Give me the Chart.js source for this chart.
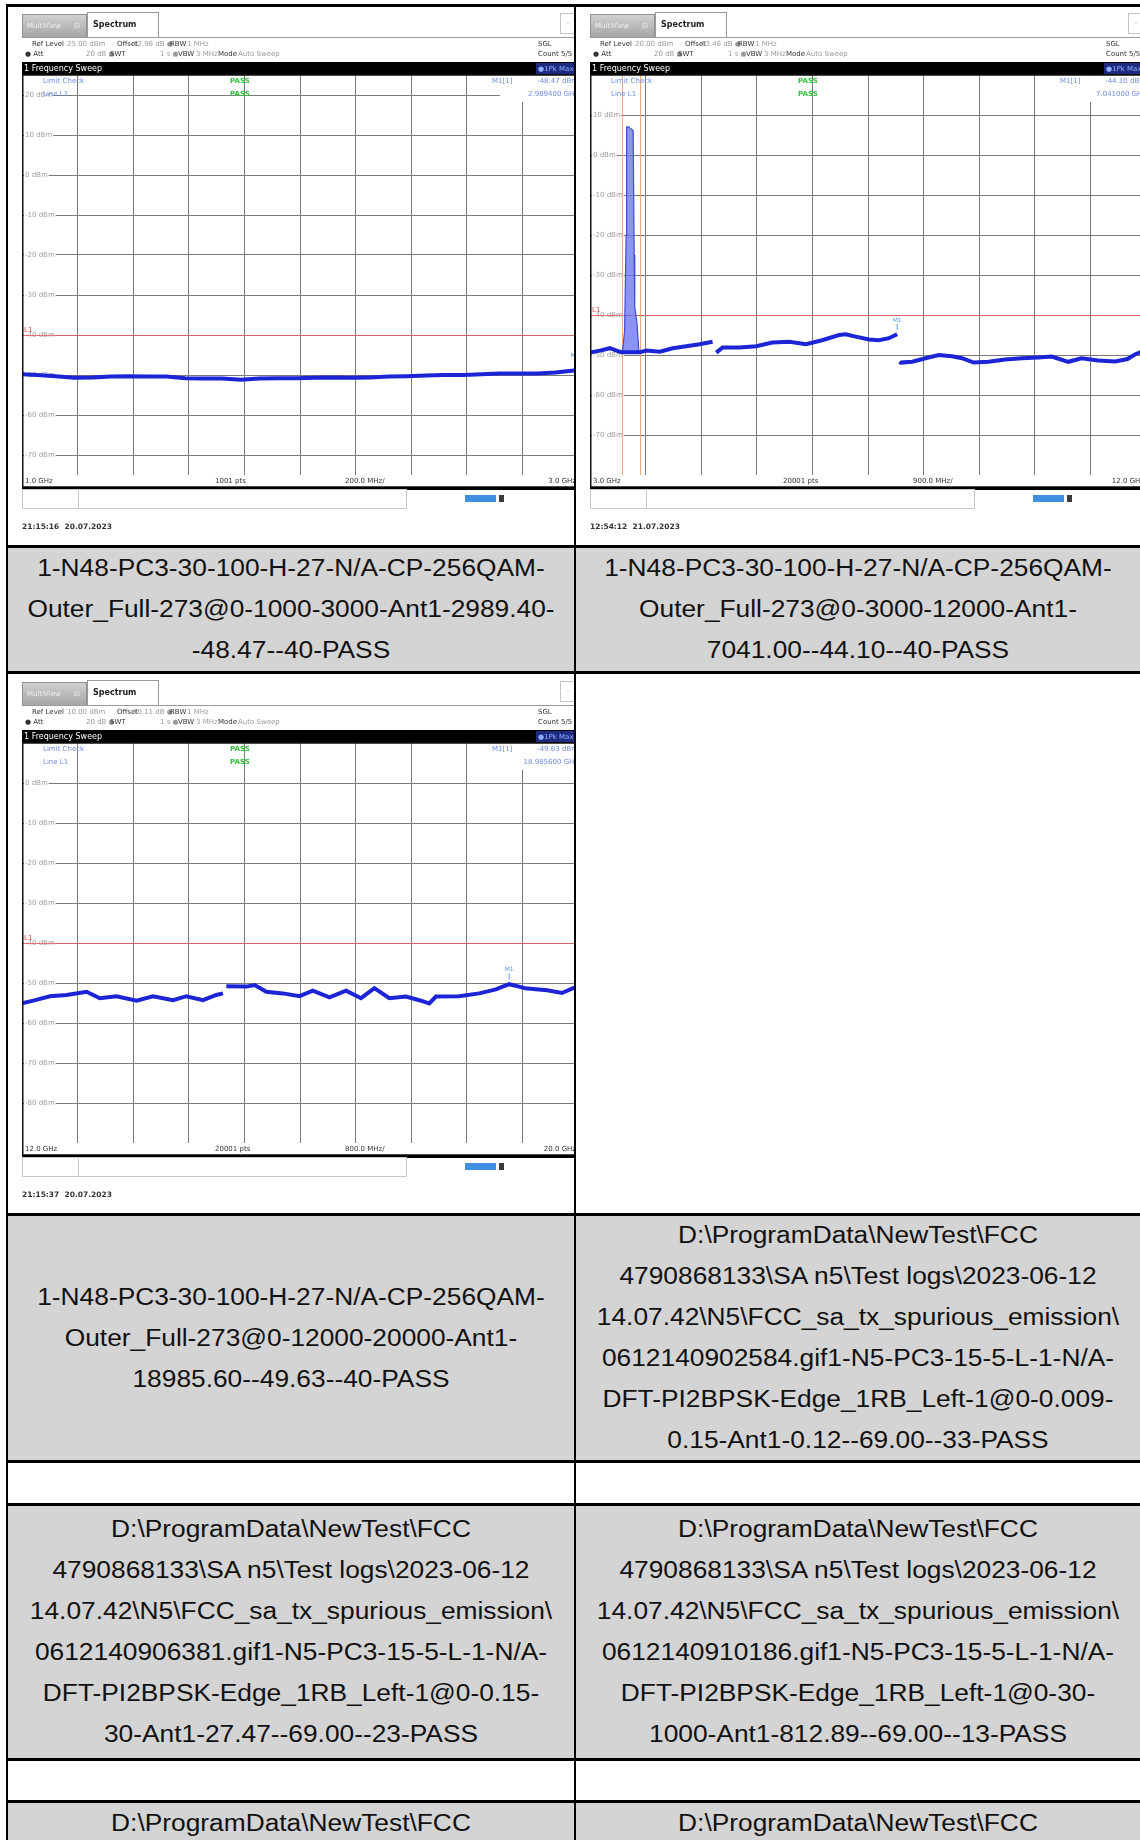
<!DOCTYPE html>
<html lang="pt-BR">
<head>
<meta charset="utf-8">
<title>Emissões espúrias - capturas</title>
<script src="https://cdn.jsdelivr.net/npm/chart.js@4.4.1/dist/chart.umd.min.js"></script>
<style>
  body { margin: 0; background: #fff; }
  #pagina { position: relative; width: 1140px; height: 1840px; overflow: hidden;
            font-family: "Liberation Sans", Arial, sans-serif; color: #111; }
  .cel { position: absolute; display: flex; align-items: center; overflow: hidden; }
  .cel.topo { align-items: flex-start; }
  .cinza { background: #d4d4d4; }
  .txt { flex: none; transform-origin: 0 50%; transform: scaleX(1.12); text-align: center;
         font-size: 23.5px; line-height: 41px; white-space: nowrap; }
  .hl { position: absolute; left: 6px; width: 1140px; height: 3px; background: #000; }
  .vl { position: absolute; width: 2px; background: #000; }
  .captura { position: absolute; overflow: hidden; }
  .captura canvas { display: block; }
</style>
</head>
<body>
<div id="pagina"></div>
<script>

// Captura 1: 1 GHz a 3 GHz
const s1Freq = [1000, 1054, 1121, 1187, 1254, 1320, 1387, 1453, 1520, 1587, 1654, 1720, 1787, 1853, 1920, 1986,
                2053, 2119, 2187, 2252, 2320, 2385, 2453, 2518, 2586, 2653, 2719, 2786, 2853, 2919, 2986, 3000];
const s1Nivel = [-49.8, -50.0, -50.3, -50.7, -50.6, -50.4, -50.3, -50.4, -50.4, -50.8, -50.9, -50.9, -51.2, -50.9, -50.8, -50.8,
                 -50.7, -50.6, -50.7, -50.6, -50.4, -50.3, -50.1, -50.0, -50.0, -49.8, -49.6, -49.6, -49.6, -49.4, -48.9, -48.5];
const s1FaixaX = [1000, 3000];
const s1FaixaY = [-75, 25];
const s1TicksY = [20, 10, 0, -10, -20, -30, -40, -50, -60, -70];
const s1RotulosX = ['1.0 GHz', '1001 pts', '200.0 MHz/', '3.0 GHz'];
const s1Cab = ['25.00 dBm', '12.96 dB', '20 dB', '1 s'];
const s1Marcador = [2989.4, -48.47];
const s1Leitura = ['-48.47 dBm', '2.989400 GHz'];
const s1Hora = '21:15:16  20.07.2023';

// Captura 2: 3 GHz a 12 GHz (null = trecho interrompido)
const s2Freq = [3000, 3161, 3323, 3484, 3527, 3800, 3914, 4129, 4339, 4560, 4774, 4984, 5010,
                5043, 5146, 5419, 5688, 5952, 6226, 6495, 6758, 7032, 7140, 7301, 7516, 7677, 7839, 7972, 7990,
                8011, 8027, 8215, 8430, 8645, 8860, 9022, 9210, 9452, 9720, 9989, 10258, 10473, 10742, 10957,
                11226, 11500, 11700, 11826, 12000];
const s2Nivel = [-49.4, -48.9, -48.3, -49.2, -49.3, -49.3, -48.9, -49.2, -48.3, -47.8, -47.3, -46.7, null,
                 -49.4, -48.1, -48.1, -47.8, -46.9, -46.7, -47.3, -46.3, -45.0, -44.8, -45.4, -46.1, -46.3, -45.8, -44.8, null,
                 -51.7, -51.9, -51.7, -50.8, -50.0, -50.3, -50.8, -51.9, -51.7, -51.1, -50.8, -50.6, -50.4, -51.7, -50.8,
                 -51.4, -51.6, -51.0, -49.8, -48.8];
const s2PicoFreq = [3527, 3560, 3585, 3592, 3620, 3660, 3699, 3715, 3725, 3760, 3790];
const s2PicoNivel = [-49.0, -44.0, -20.0, 7.0, 7.1, 6.6, 6.1, -25.0, -38.0, -42.0, -49.0];
const s2LinhasFreq = [3510, 3805];
const s2FaixaX = [3000, 12000];
const s2FaixaY = [-80, 20];
const s2TicksY = [10, 0, -10, -20, -30, -40, -50, -60, -70];
const s2RotulosX = ['3.0 GHz', '20001 pts', '900.0 MHz/', '12.0 GHz'];
const s2Cab = ['20.00 dBm', '23.46 dB', '20 dB', '1 s'];
const s2Marcador = [7972, -44.5];
const s2Leitura = ['-44.10 dBm', '7.041000 GHz'];
const s2Hora = '12:54:12  21.07.2023';

// Captura 3: 12 GHz a 20 GHz
const s3Freq = [12000, 12163, 12402, 12642, 12929, 13120, 13360, 13647, 13886, 14174, 14365, 14604, 14796, 14892, 14915,
                14940, 15227, 15347, 15515, 15754, 15993, 16184, 16424, 16663, 16878, 17070, 17285, 17525, 17716,
                17860, 17956, 18291, 18578, 18818, 19009, 19152, 19239, 19555, 19770, 19928, 20000];
const s3Nivel = [-55.1, -54.4, -53.3, -53.0, -52.2, -53.8, -53.3, -54.4, -53.3, -54.3, -53.3, -54.3, -53.0, -52.6, null,
                 -50.8, -50.9, -50.5, -52.2, -52.6, -53.3, -51.9, -53.6, -51.9, -53.8, -51.3, -53.8, -53.4, -54.3,
                 -55.1, -53.4, -53.3, -52.6, -51.6, -50.3, -50.9, -51.3, -51.8, -52.5, -51.3, -51.0];
const s3FaixaX = [12000, 20000];
const s3FaixaY = [-90, 10];
const s3TicksY = [0, -10, -20, -30, -40, -50, -60, -70, -80];
const s3RotulosX = ['12.0 GHz', '20001 pts', '800.0 MHz/', '20.0 GHz'];
const s3Cab = ['10.00 dBm', '10.11 dB', '20 dB', '1 s'];
const s3Marcador = [19009, -49.9];
const s3Leitura = ['-49.63 dBm', '18.985600 GHz'];
const s3Hora = '21:15:37  20.07.2023';

const limiteDbm = -40;

// ===== Textos das células =====
const legendaS1 = ['1-N48-PC3-30-100-H-27-N/A-CP-256QAM-', 'Outer_Full-273@0-1000-3000-Ant1-2989.40-', '-48.47--40-PASS'];
const legendaS2 = ['1-N48-PC3-30-100-H-27-N/A-CP-256QAM-', 'Outer_Full-273@0-3000-12000-Ant1-', '7041.00--44.10--40-PASS'];
const legendaS3 = ['1-N48-PC3-30-100-H-27-N/A-CP-256QAM-', 'Outer_Full-273@0-12000-20000-Ant1-', '18985.60--49.63--40-PASS'];
const caminhoBase = ['D:\\ProgramData\\NewTest\\FCC', '4790868133\\SA n5\\Test logs\\2023-06-12',
                     '14.07.42\\N5\\FCC_sa_tx_spurious_emission\\'];
const legendaN5a = [...caminhoBase, '0612140902584.gif1-N5-PC3-15-5-L-1-N/A-', 'DFT-PI2BPSK-Edge_1RB_Left-1@0-0.009-',
                    '0.15-Ant1-0.12--69.00--33-PASS'];
const legendaN5b = [...caminhoBase, '0612140906381.gif1-N5-PC3-15-5-L-1-N/A-', 'DFT-PI2BPSK-Edge_1RB_Left-1@0-0.15-',
                    '30-Ant1-27.47--69.00--23-PASS'];
const legendaN5c = [...caminhoBase, '0612140910186.gif1-N5-PC3-15-5-L-1-N/A-', 'DFT-PI2BPSK-Edge_1RB_Left-1@0-30-',
                    '1000-Ant1-812.89--69.00--13-PASS'];

// configuração de cada tela, indexada pelo id do canvas
const telas = {};

document.addEventListener('DOMContentLoaded', function () {
  montarTabela();
  criarCaptura({ id: 'cap1', x: 8, y: 7, w: 566, faixaX: s1FaixaX, passoX: 200, faixaY: s1FaixaY, ticksY: s1TicksY,
    freq: s1Freq, nivel: s1Nivel, rotulosX: s1RotulosX, cab: s1Cab, marcador: s1Marcador, leitura: s1Leitura, hora: s1Hora });
  criarCaptura({ id: 'cap2', x: 576, y: 7, w: 564, faixaX: s2FaixaX, passoX: 900, faixaY: s2FaixaY, ticksY: s2TicksY,
    freq: s2Freq, nivel: s2Nivel, picoFreq: s2PicoFreq, picoNivel: s2PicoNivel, linhas: s2LinhasFreq,
    rotulosX: s2RotulosX, cab: s2Cab, marcador: s2Marcador, leitura: s2Leitura, hora: s2Hora });
  criarCaptura({ id: 'cap3', x: 8, y: 675, w: 566, faixaX: s3FaixaX, passoX: 800, faixaY: s3FaixaY, ticksY: s3TicksY,
    freq: s3Freq, nivel: s3Nivel, rotulosX: s3RotulosX, cab: s3Cab, marcador: s3Marcador, leitura: s3Leitura, hora: s3Hora });
});

function addDiv(pai, classe, estilo) {
  const d = document.createElement('div');
  d.className = classe;
  Object.assign(d.style, estilo);
  pai.appendChild(d);
  return d;
}

function montarTabela() {
  const pag = document.getElementById('pagina');
  // [x, y, largura, altura, cinza, linhas, alinhar no topo]
  const celulas = [
    [8, 548, 566, 123, true, legendaS1], [576, 548, 564, 123, true, legendaS2],
    [8, 1216, 566, 244, true, legendaS3], [576, 1216, 564, 244, true, legendaN5a],
    [8, 1506, 566, 252, true, legendaN5b], [576, 1506, 564, 252, true, legendaN5c],
    [8, 1803, 566, 252, true, caminhoBase, true], [576, 1803, 564, 252, true, caminhoBase, true]
  ];
  celulas.forEach(c => {
    const cel = addDiv(pag, 'cel' + (c[4] ? ' cinza' : '') + (c[6] ? ' topo' : ''),
      { left: c[0] + 'px', top: c[1] + 'px', width: c[2] + 'px', height: c[3] + 'px' });
    const t = addDiv(cel, 'txt', { width: (c[2] / 1.12) + 'px' });
    c[5].forEach((linha, i) => {
      if (i) t.appendChild(document.createElement('br'));
      t.appendChild(document.createTextNode(linha));
    });
  });
  // bordas da tabela
  [4, 545, 671, 1213, 1460, 1503, 1758, 1800].forEach(y => addDiv(pag, 'hl', { top: y + 'px' }));
  addDiv(pag, 'vl', { left: '6px', top: '4px', height: '1840px' });
  addDiv(pag, 'vl', { left: '574px', top: '4px', height: '1840px' });
}

function texto(ctx, s, x, y, cor, fonte, alinh) {
  ctx.font = fonte;
  ctx.fillStyle = cor;
  ctx.textAlign = alinh || 'left';
  ctx.textBaseline = 'middle';
  ctx.fillText(s, x, y);
}

const F_PEQ = '7px "DejaVu Sans"';
const F_NEG = 'bold 7px "DejaVu Sans"';

// Desenha a "moldura" da tela do analisador (abas, cabeçalho, rodapé)
const pluginTelaRS = {
  id: 'telaRS',
  beforeDraw(chart) {
    const t = telas[chart.canvas.id];
    const ctx = chart.ctx;
    const { left: L, top: T, right: R } = chart.chartArea;
    ctx.save();
    ctx.fillStyle = '#fff';
    ctx.fillRect(0, 0, chart.width, chart.height);

    // abas
    const g = ctx.createLinearGradient(0, T - 61, 0, T - 38);
    g.addColorStop(0, '#d2d2d2');
    g.addColorStop(1, '#a6a6a6');
    ctx.fillStyle = g;
    ctx.fillRect(L, T - 61, 64, 23);
    ctx.strokeStyle = '#8f8f8f';
    ctx.lineWidth = 1;
    ctx.strokeRect(L + 0.5, T - 60.5, 64, 23);
    texto(ctx, 'MultiView', L + 5, T - 49, '#eeeeee', F_PEQ);
    texto(ctx, '⊟', L + 55, T - 49, '#eeeeee', F_PEQ, 'center');
    ctx.fillStyle = '#fff';
    ctx.fillRect(L + 65, T - 63, 71, 25);
    ctx.strokeStyle = '#9a9a9a';
    ctx.strokeRect(L + 65.5, T - 62.5, 71, 25);
    texto(ctx, 'Spectrum', L + 71, T - 50, '#222', 'bold 8px "DejaVu Sans"');
    ctx.beginPath();
    ctx.moveTo(L + 136, T - 37.5);
    ctx.lineTo(chart.width, T - 37.5);
    ctx.moveTo(L, T - 37.5);
    ctx.lineTo(L + 65, T - 37.5);
    ctx.stroke();
    ctx.strokeStyle = '#c4c4c4';
    ctx.strokeRect(L + 538.5, T - 61.5, 16, 20);
    texto(ctx, '-', L + 546, T - 52, '#999', F_PEQ, 'center');

    // cabeçalho de ajustes
    const esc = '#333', cla = '#9a9a9a';
    texto(ctx, 'Ref Level', L + 10, T - 31, esc, F_PEQ);
    texto(ctx, t.cab[0], L + 45, T - 31, cla, F_PEQ);
    texto(ctx, 'Offset', L + 95, T - 31, esc, F_PEQ);
    texto(ctx, t.cab[1] + ' ●', L + 111, T - 31, cla, F_PEQ);
    texto(ctx, 'RBW', L + 148, T - 31, esc, F_PEQ);
    texto(ctx, '1 MHz', L + 165, T - 31, cla, F_PEQ);
    texto(ctx, '● Att', L + 3, T - 21, esc, F_PEQ);
    texto(ctx, t.cab[2] + ' ●', L + 64, T - 21, cla, F_PEQ);
    texto(ctx, 'SWT', L + 88, T - 21, esc, F_PEQ);
    texto(ctx, t.cab[3] + ' ●', L + 138, T - 21, cla, F_PEQ);
    texto(ctx, 'VBW', L + 156, T - 21, esc, F_PEQ);
    texto(ctx, '3 MHz', L + 174, T - 21, cla, F_PEQ);
    texto(ctx, 'Mode', L + 196, T - 21, esc, F_PEQ);
    texto(ctx, 'Auto Sweep', L + 216, T - 21, cla, F_PEQ);
    texto(ctx, 'SGL', L + 516, T - 31, esc, F_PEQ);
    texto(ctx, 'Count 5/5', L + 516, T - 21, esc, F_PEQ);

    // barra preta do título
    ctx.fillStyle = '#000';
    ctx.fillRect(L, T - 13, R - L, 13);
    texto(ctx, '1 Frequency Sweep', L + 2, T - 6, '#fff', '8px "DejaVu Sans"');
    ctx.fillStyle = '#1d2a80';
    ctx.fillRect(L + 514, T - 12, 42, 11);
    texto(ctx, '●1Pk Max', L + 516, T - 6, '#8fb0ff', F_PEQ);
    ctx.restore();
  },

  beforeDatasetsDraw(chart) {
    const t = telas[chart.canvas.id];
    const ctx = chart.ctx;
    const { left: L, top: T, right: R, bottom: B } = chart.chartArea;
    const sx = chart.scales.x, sy = chart.scales.y;
    ctx.save();
    // fundo branco atrás da leitura do marcador
    ctx.fillStyle = '#fff';
    ctx.fillRect(L + 478, T + 1, R - L - 479, 26);
    // linha de limite
    const yl = Math.round(sy.getPixelForValue(limiteDbm)) + 0.5;
    ctx.strokeStyle = 'rgba(226,96,96,0.85)';
    ctx.lineWidth = 1;
    ctx.beginPath();
    ctx.moveTo(L, yl);
    ctx.lineTo(R, yl);
    ctx.stroke();
    texto(ctx, 'L1', L + 2, yl - 5, '#e04848', F_PEQ);
    // linhas verticais de frequência
    (t.linhas || []).forEach(f => {
      const x = Math.round(sx.getPixelForValue(f)) + 0.5;
      ctx.strokeStyle = 'rgba(236,150,90,0.8)';
      ctx.beginPath();
      ctx.moveTo(x, T);
      ctx.lineTo(x, B);
      ctx.stroke();
    });
    // textos de verificação de limite
    const azul = '#6f8de4', verde = '#2fc43a';
    texto(ctx, 'Limit Check', L + 21, T + 6, azul, F_PEQ);
    texto(ctx, 'Line L1', L + 21, T + 19, azul, F_PEQ);
    texto(ctx, 'PASS', L + 208, T + 6, verde, F_NEG);
    texto(ctx, 'PASS', L + 208, T + 19, verde, F_NEG);
    texto(ctx, 'M1[1]', L + 470, T + 6, azul, F_PEQ);
    texto(ctx, t.leitura[0], R, T + 6, azul, F_PEQ, 'right');
    texto(ctx, t.leitura[1], R, T + 19, azul, F_PEQ, 'right');
    ctx.restore();
  },

  afterDraw(chart) {
    const t = telas[chart.canvas.id];
    const ctx = chart.ctx;
    const { left: L, top: T, right: R, bottom: B } = chart.chartArea;
    const sx = chart.scales.x, sy = chart.scales.y;
    ctx.save();
    // marcador M1
    const mx = sx.getPixelForValue(t.marcador[0]);
    const my = sy.getPixelForValue(t.marcador[1]);
    ctx.strokeStyle = '#5b9ee0';
    ctx.lineWidth = 1;
    ctx.beginPath();
    ctx.moveTo(mx, my - 9);
    ctx.lineTo(mx, my - 3);
    ctx.stroke();
    texto(ctx, 'M1', mx, my - 13, '#5b9ee0', '6px "DejaVu Sans"', 'center');

    // faixa de rótulos do eixo x
    ctx.fillStyle = '#fff';
    ctx.fillRect(L, B, R - L, 12);
    texto(ctx, t.rotulosX[0], L + 3, B + 6, '#333', F_PEQ);
    texto(ctx, t.rotulosX[1], L + 193, B + 6, '#333', F_PEQ);
    texto(ctx, t.rotulosX[2], L + 323, B + 6, '#333', F_PEQ);
    texto(ctx, t.rotulosX[3], R - 2, B + 6, '#333', F_PEQ, 'right');
    // moldura
    ctx.strokeStyle = '#111';
    ctx.lineWidth = 1.5;
    ctx.strokeRect(L + 0.75, T, R - L - 1.5, B - T + 12);
    ctx.fillStyle = '#000';
    ctx.fillRect(L, B + 12, R - L, 3);

    // barra de status
    ctx.strokeStyle = '#c8c8c8';
    ctx.lineWidth = 1;
    ctx.strokeRect(L + 0.5, B + 14.5, 56, 19);
    ctx.strokeRect(L + 56.5, B + 14.5, 328, 19);
    ctx.fillStyle = '#3f8fe2';
    ctx.fillRect(L + 443, B + 20, 31, 7);
    ctx.fillStyle = '#3a3a3a';
    ctx.fillRect(L + 477, B + 20, 5, 7);
    // data e hora
    texto(ctx, t.hora, L, B + 52, '#333', 'bold 7.5px "DejaVu Sans"');
    ctx.restore();
  }
};

function criarCaptura(cfg) {
  const pag = document.getElementById('pagina');
  const caixa = addDiv(pag, 'captura', { left: cfg.x + 'px', top: cfg.y + 'px', width: cfg.w + 'px', height: '538px' });
  const canvas = document.createElement('canvas');
  canvas.id = cfg.id;
  canvas.width = 580;
  canvas.height = 538;
  canvas.style.width = '580px';
  canvas.style.height = '538px';
  caixa.appendChild(canvas);
  telas[cfg.id] = cfg;

  const datasets = [{
    data: cfg.freq.map((f, i) => ({ x: f, y: cfg.nivel[i] })),
    borderColor: '#1b25d6',
    borderWidth: 4,
    spanGaps: false,
    order: 0
  }];
  if (cfg.picoFreq) {
    datasets.push({
      data: cfg.picoFreq.map((f, i) => ({ x: f, y: cfg.picoNivel[i] })),
      borderColor: '#3e4bdc',
      borderWidth: 1.2,
      backgroundColor: 'rgba(100,112,236,0.75)',
      fill: { value: -49 },
      order: 1
    });
  }

  new Chart(canvas, {
    type: 'line',
    data: { datasets },
    options: {
      responsive: false,
      animation: false,
      devicePixelRatio: 1,
      layout: { padding: { left: 14, top: 68, right: 10, bottom: 70 } },
      elements: { point: { radius: 0 }, line: { tension: 0 } },
      plugins: { legend: { display: false }, tooltip: { enabled: false } },
      scales: {
        x: {
          type: 'linear',
          min: cfg.faixaX[0],
          max: cfg.faixaX[1],
          ticks: { display: false, stepSize: cfg.passoX },
          grid: { color: '#7a7a7a', lineWidth: 1, drawTicks: false },
          border: { display: false },
          afterFit: s => { s.height = 0; }
        },
        y: {
          type: 'linear',
          min: cfg.faixaY[0],
          max: cfg.faixaY[1],
          afterBuildTicks: ax => { ax.ticks = cfg.ticksY.map(v => ({ value: v })); },
          ticks: {
            mirror: true, padding: 3, color: '#a0a0a0',
            font: { size: 7, family: 'DejaVu Sans' },
            callback: v => v + ' dBm',
            showLabelBackdrop: true, backdropColor: '#fff', backdropPadding: 1
          },
          grid: { color: '#7a7a7a', lineWidth: 1, drawTicks: false },
          border: { display: false },
          afterFit: s => { s.width = 0; }
        }
      }
    },
    plugins: [pluginTelaRS]
  });
}
</script>
</body>
</html>
